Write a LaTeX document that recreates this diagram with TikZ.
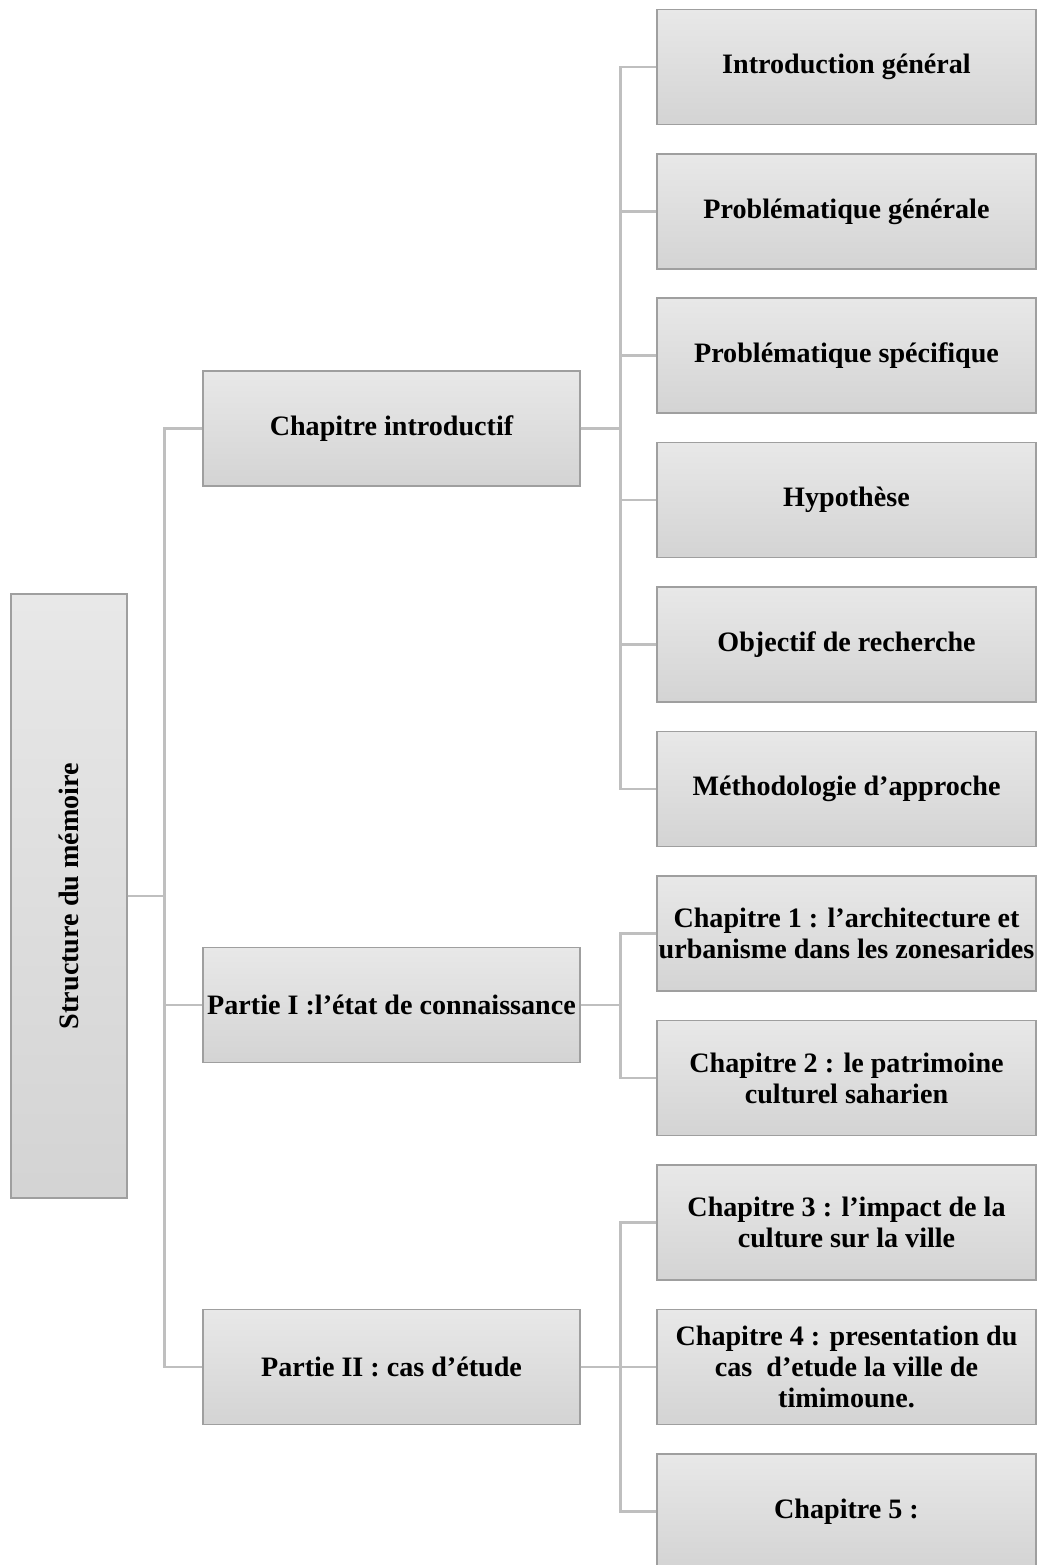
\documentclass[tikz,border=0pt]{standalone}
\usepackage{fontspec}
\setmainfont{Liberation Serif}
\usepackage{tikz}
\usetikzlibrary{positioning}
\tikzset{
  basebox/.style={rectangle,draw=gray!75,semithick,shading=axis,top color=gray!18,bottom color=gray!34,
    align=center,inner xsep=0pt,font=\fontsize{16}{17.6}\selectfont\bfseries},
  rootbox/.style={basebox,minimum width=2.32cm,minimum height=12.08cm},
  partbox/.style={basebox,minimum width=7.54cm,minimum height=2.3cm},
  chapbox/.style={basebox,minimum width=7.58cm,minimum height=2.3cm},
  linkedge/.style={draw=gray!50,line width=1.5pt},
}
\begin{document}
\begin{tikzpicture}
  \useasboundingbox (0,0) rectangle (20.8,-31.3);
  % left column
  \node[rootbox] (nRoot) at (1.38,-17.92) {\rotatebox{90}{Structure du mémoire}};
  % middle column
  \node[partbox] (nIntro) at (7.83,-8.57) {Chapitre introductif};
  \node[partbox] (nP1) at (7.83,-20.1) {Partie I :l’état de connaissance};
  \node[partbox] (nP2) at (7.83,-27.34) {Partie II : cas d’étude};
  % right column
  \node[chapbox] (nG1) at (16.93,-1.34) {Introduction général};
  \node[chapbox] (nG2) at (16.93,-4.23) {Problématique générale};
  \node[chapbox] (nG3) at (16.93,-7.11) {Problématique spécifique};
  \node[chapbox] (nG4) at (16.93,-10.0) {Hypothèse};
  \node[chapbox] (nG5) at (16.93,-12.89) {Objectif de recherche};
  \node[chapbox] (nG6) at (16.93,-15.78) {Méthodologie d’approche};
  \node[chapbox] (nC1) at (16.93,-18.67) {Chapitre 1 : l’architecture et\\urbanisme dans les zonesarides};
  \node[chapbox] (nC2) at (16.93,-21.56) {Chapitre 2 : le patrimoine\\culturel saharien};
  \node[chapbox] (nC3) at (16.93,-24.45) {Chapitre 3 : l’impact de la\\culture sur la ville};
  \node[chapbox] (nC4) at (16.93,-27.34) {Chapitre 4 : presentation du\\cas~ d’etude la ville de\\timimoune.};
  \node[chapbox] (nC5) at (16.93,-30.23) {Chapitre 5 :};
  % connectors
  \foreach \n in {nIntro,nP1,nP2}
    \draw[linkedge] (nRoot.east) -- ++(0.74,0) |- (\n.west);
  \foreach \n in {nG1,nG2,nG3,nG4,nG5,nG6}
    \draw[linkedge] (nIntro.east) -- ++(0.8,0) |- (\n.west);
  \foreach \n in {nC1,nC2}
    \draw[linkedge] (nP1.east) -- ++(0.8,0) |- (\n.west);
  \foreach \n in {nC3,nC4,nC5}
    \draw[linkedge] (nP2.east) -- ++(0.8,0) |- (\n.west);
\end{tikzpicture}
\end{document}
